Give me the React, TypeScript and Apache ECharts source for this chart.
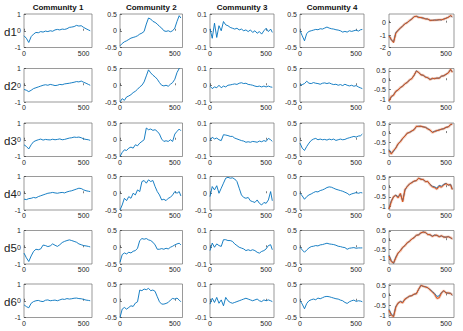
import { useEffect, useRef } from "react";
import * as echarts from "echarts";

// ---------- data ----------
const xs = [0, 20, 40, 60, 80, 100, 120, 140, 160, 180, 200, 220, 240, 260, 280, 300, 320, 340, 360, 380, 400, 420, 440, 460, 480, 500, 520, 540, 555];
const xTicks = [0, 500];
const communities = ["Community 1", "Community 2", "Community 3", "Community 4"];
const rowNames = ["d1", "d2", "d3", "d4", "d5", "d6"];
const communityRange = [1, 0.5, 0.1, 0.5];
const communityTicks = [[-1, 0, 1], [-0.5, 0, 0.5], [-0.1, 0, 0.1], [-0.5, 0, 0.5]];

const d1c1 = [-0.3, -0.45, -0.7, -0.35, -0.2, -0.1, -0.12, -0.05, -0.08, -0.02, -0.05, 0, -0.03, 0.05, 0.08, 0.05, 0.1, 0.08, 0.12, 0.2, 0.22, 0.25, 0.32, 0.28, 0.3, 0.2, 0.12, 0.05, 0.0];
const d2c1 = [-0.25, -0.3, -0.38, -0.3, -0.2, -0.15, -0.1, -0.05, 0.0, 0.03, 0.0, 0.05, 0.02, -0.02, 0.0, 0.05, 0.03, 0.08, 0.1, 0.12, 0.15, 0.18, 0.22, 0.2, 0.25, 0.18, 0.12, 0.05, 0.0];
const d3c1 = [-0.3, -0.4, -0.55, -0.3, -0.12, -0.05, 0.0, 0.04, -0.02, 0.02, 0.0, -0.01, 0.03, 0.0, 0.02, 0.05, 0.0, 0.02, 0.06, 0.1, 0.12, 0.16, 0.14, 0.16, 0.12, 0.05, 0.02, 0.0, -0.04];
const d4c1 = [-0.35, -0.38, -0.32, -0.3, -0.25, -0.28, -0.2, -0.15, -0.1, -0.05, 0.0, 0.02, 0.05, 0.02, 0.0, 0.03, 0.05, 0.02, 0.08, 0.12, 0.15, 0.2, 0.25, 0.3, 0.28, 0.2, 0.15, 0.12, 0.1];
const d5c1 = [-0.35, -0.63, -0.85, -0.52, -0.25, -0.12, -0.15, -0.1, 0.13, 0.1, 0.04, 0.08, 0.2, 0.12, 0.05, 0.15, 0.28, 0.35, 0.4, 0.44, 0.4, 0.35, 0.3, 0.2, 0.15, 0.1, 0.08, 0.05, 0.02];
const d6c1 = [-0.24, -0.35, -0.42, -0.15, -0.05, 0.0, 0.02, -0.03, -0.05, 0.03, 0.05, 0.0, 0.02, 0.04, 0.0, 0.05, 0.1, 0.08, 0.13, 0.1, 0.12, 0.15, 0.16, 0.13, 0.12, 0.08, 0.04, 0.02, 0.0];

const d1c2 = [-0.45, -0.38, -0.33, -0.3, -0.26, -0.22, -0.2, -0.18, -0.15, -0.1, -0.07, -0.02, 0.2, 0.38, 0.35, 0.28, 0.25, 0.2, 0.13, 0.08, 0.0, -0.02, 0.0, -0.03, 0.0, 0.08, 0.28, 0.45, 0.38];
const d2c2 = [-0.5, -0.4, -0.45, -0.35, -0.32, -0.28, -0.22, -0.18, -0.12, -0.05, 0.0, 0.1, 0.28, 0.46, 0.37, 0.3, 0.25, 0.18, 0.08, 0.0, -0.02, 0.0, -0.03, 0.03, 0.08, 0.18, 0.38, 0.5, 0.55];
const d3c2 = [-0.5, -0.38, -0.3, -0.32, -0.25, -0.22, -0.25, -0.15, -0.18, -0.1, -0.05, 0.0, 0.35, 0.3, 0.32, 0.28, 0.3, 0.25, 0.17, 0.02, -0.05, -0.03, -0.05, 0.0, -0.05, 0.17, 0.25, 0.32, 0.27];
const d4c2 = [-0.5, -0.35, -0.15, -0.22, -0.1, -0.15, 0.0, -0.05, 0.1, 0.05, 0.35, 0.38, 0.3, 0.4, 0.35, 0.38, 0.2, 0.05, -0.05, -0.2, -0.18, -0.22, -0.15, -0.12, -0.05, 0.05, 0.0, 0.05, -0.08];
const d5c2 = [-0.45, -0.22, -0.17, -0.2, -0.15, -0.17, -0.12, -0.1, -0.03, 0.2, 0.26, 0.24, 0.26, 0.22, 0.2, 0.15, 0.07, -0.06, -0.06, -0.04, -0.06, -0.03, -0.05, 0.0, 0.03, 0.07, 0.1, 0.12, 0.07];
const d6c2 = [-0.5, -0.25, -0.2, -0.25, -0.2, -0.15, -0.17, -0.07, -0.03, 0.32, 0.3, 0.35, 0.33, 0.37, 0.3, 0.32, 0.28, 0.12, -0.03, -0.1, -0.1, -0.08, -0.05, 0.02, 0.07, 0.05, 0.08, 0.02, -0.03];

const d1c3 = [0.01, -0.045, 0.045, -0.04, 0.03, 0.0, 0.055, 0.035, 0.03, 0.02, 0.015, 0.01, 0.015, 0.005, 0.01, 0.0, 0.005, -0.005, 0.005, -0.01, 0.0, -0.015, -0.005, -0.02, 0.0, 0.015, -0.005, 0.01, -0.01];
const d2c3 = [-0.005, -0.02, -0.01, -0.015, 0.0, -0.015, -0.005, -0.01, 0.0, 0.002, 0.005, 0.008, 0.005, 0.012, 0.015, 0.01, 0.012, 0.005, 0.003, 0.0, -0.005, -0.008, -0.005, -0.01, -0.005, -0.01, -0.005, -0.01, -0.012];
const d3c3 = [-0.005, 0.015, 0.005, 0.01, 0.0, -0.005, 0.03, 0.028, 0.025, 0.02, 0.02, 0.01, 0.005, 0.0, -0.005, -0.008, -0.015, -0.012, -0.015, -0.01, -0.012, -0.015, -0.008, -0.012, -0.005, -0.01, 0.008, 0.0, -0.01];
const d4c3 = [-0.02, 0.04, 0.02, 0.045, 0.0, 0.03, 0.06, 0.09, 0.095, 0.09, 0.092, 0.085, 0.07, 0.03, -0.01, -0.025, -0.03, -0.025, -0.045, -0.05, -0.055, -0.04, -0.06, -0.07, -0.055, -0.06, -0.04, 0.01, -0.045];
const d5c3 = [-0.02, 0.025, 0.0, 0.02, 0.01, 0.005, 0.045, 0.045, 0.04, 0.04, 0.035, 0.02, 0.01, 0.0, -0.005, -0.01, -0.02, -0.015, -0.02, -0.015, -0.02, -0.03, -0.035, -0.025, -0.02, -0.01, 0.01, 0.015, -0.015];
const d6c3 = [-0.02, 0.015, -0.01, 0.02, -0.015, 0.005, -0.03, 0.02, 0.0, -0.01, -0.015, -0.01, -0.005, 0.0, 0.005, 0.01, 0.015, 0.01, 0.005, 0.0, 0.005, 0.01, 0.0, -0.005, 0.005, 0.0, 0.005, 0.0, -0.005];

const d1c4 = [0.0, -0.15, -0.3, -0.08, -0.02, 0.0, 0.02, 0.04, 0.03, 0.06, 0.05, 0.08, 0.11, 0.08, 0.06, 0.05, 0.03, 0.02, 0.0, -0.04, -0.02, -0.04, 0.0, -0.02, 0.0, 0.02, -0.01, 0.03, 0.04];
const d2c4 = [0.0, 0.02, 0.05, 0.12, 0.06, 0.05, 0.08, 0.06, 0.05, 0.03, 0.06, 0.07, 0.05, 0.07, 0.04, 0.02, 0.03, 0.0, 0.02, -0.01, 0.03, 0.0, -0.02, 0.0, -0.03, -0.01, -0.05, -0.08, -0.1];
const d3c4 = [-0.1, -0.25, -0.32, -0.2, -0.1, -0.02, 0.02, 0.04, 0.0, 0.02, 0.0, 0.01, -0.01, 0.02, 0.0, 0.02, -0.02, 0.0, 0.02, 0.0, 0.01, 0.04, 0.06, 0.08, 0.1, 0.08, 0.11, 0.12, 0.17];
const d4c4 = [0.0, -0.08, -0.18, -0.1, -0.05, -0.02, 0.02, 0.05, 0.04, 0.08, 0.1, 0.13, 0.17, 0.19, 0.18, 0.15, 0.12, 0.1, 0.08, 0.06, 0.03, 0.0, -0.05, -0.02, 0.0, 0.02, 0.0, 0.02, 0.01];
const d5c4 = [0.0, -0.08, -0.15, -0.08, -0.02, 0.02, 0.03, 0.05, 0.04, 0.07, 0.08, 0.1, 0.12, 0.1, 0.09, 0.08, 0.06, 0.03, 0.02, 0.0, -0.01, -0.06, -0.03, -0.02, -0.01, -0.03, -0.02, -0.02, -0.02];
const d6c4 = [0.0, -0.1, -0.24, -0.08, 0.0, 0.03, 0.05, 0.03, 0.08, 0.06, 0.09, 0.12, 0.13, 0.12, 0.1, 0.08, 0.06, 0.05, 0.02, 0.0, -0.05, -0.08, -0.03, 0.0, 0.02, -0.02, 0.0, -0.01, -0.03];

const d1c5Blue = [-1.0, -1.4, -1.55, -0.8, -0.6, -0.45, -0.25, -0.1, 0.02, 0.15, 0.3, 0.5, 0.5, 0.45, 0.4, 0.38, 0.32, 0.28, 0.2, 0.18, 0.22, 0.2, 0.25, 0.22, 0.3, 0.35, 0.45, 0.55, 0.45];
const d1c5Orange = [-1.05, -1.35, -1.6, -0.85, -0.62, -0.42, -0.28, -0.08, 0.0, 0.18, 0.28, 0.48, 0.52, 0.42, 0.42, 0.36, 0.3, 0.3, 0.18, 0.2, 0.2, 0.22, 0.23, 0.24, 0.28, 0.36, 0.43, 0.57, 0.48];
const d2c5Blue = [-1.05, -0.9, -0.75, -0.6, -0.5, -0.4, -0.3, -0.2, -0.1, 0.0, 0.1, 0.25, 0.5, 0.4, 0.3, 0.25, 0.18, 0.12, 0.05, 0.08, 0.1, 0.1, 0.12, 0.2, 0.25, 0.3, 0.4, 0.55, 0.45];
const d2c5Orange = [-1.1, -0.85, -0.8, -0.58, -0.52, -0.38, -0.32, -0.18, -0.12, 0.02, 0.08, 0.27, 0.48, 0.42, 0.28, 0.27, 0.16, 0.14, 0.03, 0.1, 0.08, 0.12, 0.1, 0.22, 0.23, 0.32, 0.38, 0.58, 0.42];
const d3c5Blue = [-0.9, -1.1, -1.0, -0.8, -0.6, -0.45, -0.3, -0.15, -0.02, 0.05, 0.1, 0.2, 0.35, 0.38, 0.36, 0.35, 0.3, 0.25, 0.15, 0.05, 0.1, 0.12, 0.18, 0.2, 0.25, 0.3, 0.35, 0.45, 0.5];
const d3c5Orange = [-0.95, -1.15, -0.95, -0.82, -0.58, -0.48, -0.28, -0.17, 0.0, 0.03, 0.12, 0.18, 0.37, 0.36, 0.38, 0.33, 0.32, 0.22, 0.17, 0.03, 0.08, 0.14, 0.16, 0.22, 0.23, 0.32, 0.33, 0.47, 0.48];
const d4c5Blue = [-1.1, -0.7, -0.5, -0.4, -0.5, -0.35, -0.7, -0.15, 0.05, 0.15, 0.25, 0.3, 0.35, 0.45, 0.42, 0.38, 0.3, 0.28, 0.15, 0.05, 0.02, -0.05, 0.1, 0.05, 0.15, 0.2, 0.1, 0.15, -0.1];
const d4c5Orange = [-1.12, -0.75, -0.48, -0.42, -0.55, -0.32, -0.75, -0.12, 0.03, 0.17, 0.23, 0.32, 0.33, 0.47, 0.4, 0.4, 0.28, 0.3, 0.13, 0.02, -0.02, -0.1, 0.05, 0.0, 0.12, 0.18, 0.12, 0.12, -0.12];
const d5c5Blue = [-0.8, -1.1, -1.25, -0.9, -0.7, -0.55, -0.4, -0.28, -0.15, -0.05, 0.05, 0.15, 0.25, 0.3, 0.38, 0.45, 0.4, 0.32, 0.28, 0.22, 0.28, 0.25, 0.2, 0.22, 0.18, 0.15, 0.2, 0.12, 0.08];
const d5c5Orange = [-0.85, -1.15, -1.22, -0.95, -0.68, -0.58, -0.38, -0.3, -0.13, -0.07, 0.07, 0.13, 0.27, 0.28, 0.4, 0.43, 0.42, 0.3, 0.3, 0.2, 0.26, 0.27, 0.18, 0.24, 0.16, 0.17, 0.18, 0.14, 0.06];
const d6c5Blue = [-0.7, -0.95, -1.05, -0.55, -0.4, -0.3, -0.35, -0.2, -0.1, -0.05, 0.0, 0.05, 0.1, 0.3, 0.52, 0.45, 0.45, 0.38, 0.3, 0.2, 0.1, -0.05, -0.02, 0.15, 0.22, 0.15, 0.1, 0.12, 0.0];
const d6c5Orange = [-0.75, -1.0, -1.08, -0.6, -0.38, -0.32, -0.38, -0.18, -0.12, -0.03, -0.02, 0.07, 0.08, 0.32, 0.5, 0.47, 0.42, 0.4, 0.28, 0.18, 0.05, -0.15, -0.12, 0.12, 0.25, 0.12, 0.13, 0.1, 0.02];

const communitySeries = [
  [d1c1, d1c2, d1c3, d1c4],
  [d2c1, d2c2, d2c3, d2c4],
  [d3c1, d3c2, d3c3, d3c4],
  [d4c1, d4c2, d4c3, d4c4],
  [d5c1, d5c2, d5c3, d5c4],
  [d6c1, d6c2, d6c3, d6c4],
];
const lastBlue = [d1c5Blue, d2c5Blue, d3c5Blue, d4c5Blue, d5c5Blue, d6c5Blue];
const lastOrange = [d1c5Orange, d2c5Orange, d3c5Orange, d4c5Orange, d5c5Orange, d6c5Orange];
const lastMin = [-2, -1.15, -1.28, -1.17, -1.28, -1.12];
const lastMax = [0.7, 0.62, 0.55, 0.55, 0.52, 0.58];
const lastTicks = [[-2, -1, 0], [-1, -0.5, 0, 0.5], [-1, -0.5, 0, 0.5], [-1, -0.5, 0, 0.5], [-1, -0.5, 0, 0.5], [-1, -0.5, 0, 0.5]];

// ---------- layout ----------
const colLeft = [24, 120, 210, 300, 389];
const colWidth = [68, 62.5, 64, 64, 65];
const rowTop = [14, 68.5, 123, 176.5, 230.5, 284];
const rowHeight = 33.5;
const XMAX = 570;
const BLUE = "#0072BD";
const ORANGE = "#D95319";
const AX = "#262626";
const FONT = "Liberation Sans, Arial, Helvetica, sans-serif";

function pair(ys: number[]) {
  return xs.map((x, i) => [x, ys[i]]);
}

export default function App() {
  const ref = useRef<HTMLDivElement>(null);
  useEffect(() => {
    document.body.style.margin = "0";
    if (!ref.current) return;
    const chart = echarts.init(ref.current, null, { renderer: "svg" });
    const grid: any[] = [];
    const xAxis: any[] = [];
    const yAxis: any[] = [];
    const series: any[] = [];
    const graphic: any[] = [];

    for (let r = 0; r < 6; r++) {
      for (let c = 0; c < 5; c++) {
        const idx = grid.length;
        grid.push({
          left: colLeft[c],
          top: rowTop[r],
          width: colWidth[c],
          height: rowHeight,
          show: true,
          borderColor: "#6e6e6e",
          borderWidth: 0.7,
          backgroundColor: "#fff",
          containLabel: false,
        });
        xAxis.push({
          type: "value",
          gridIndex: idx,
          min: 0,
          max: XMAX,
          axisLine: { show: false },
          splitLine: { show: false },
          axisTick: { show: true, inside: true, length: 2, lineStyle: { color: AX, width: 0.6 }, customValues: xTicks },
          axisLabel: { fontSize: 7, color: AX, margin: 2, fontFamily: FONT, customValues: xTicks },
        });
        const isLast = c === 4;
        const yMin = isLast ? lastMin[r] : -communityRange[c];
        const yMax = isLast ? lastMax[r] : communityRange[c];
        const ticks = isLast ? lastTicks[r] : communityTicks[c];
        yAxis.push({
          type: "value",
          gridIndex: idx,
          min: yMin,
          max: yMax,
          axisLine: { show: false },
          splitLine: { show: false },
          axisTick: { show: true, inside: true, length: 2, lineStyle: { color: AX, width: 0.6 }, customValues: ticks },
          axisLabel: { fontSize: 7, color: AX, margin: 3, fontFamily: FONT, customValues: ticks },
        });
        if (!isLast) {
          series.push({
            type: "line",
            xAxisIndex: idx,
            yAxisIndex: idx,
            data: pair(communitySeries[r][c]),
            showSymbol: false,
            lineStyle: { color: BLUE, width: 0.9 },
            clip: true,
          });
        } else {
          series.push({
            type: "line",
            xAxisIndex: idx,
            yAxisIndex: idx,
            data: pair(lastOrange[r]),
            showSymbol: false,
            lineStyle: { color: ORANGE, width: 2.6, opacity: 0.3 },
            clip: true,
            silent: true,
          });
          series.push({
            type: "line",
            xAxisIndex: idx,
            yAxisIndex: idx,
            data: pair(lastBlue[r]),
            showSymbol: false,
            lineStyle: { color: BLUE, width: 0.9 },
            clip: true,
          });
          series.push({
            type: "line",
            xAxisIndex: idx,
            yAxisIndex: idx,
            data: pair(lastOrange[r]),
            showSymbol: false,
            lineStyle: { color: ORANGE, width: 1 },
            clip: true,
          });
        }
      }
      graphic.push({
        type: "text",
        x: 4,
        y: rowTop[r] + rowHeight / 2 + 1,
        style: { text: rowNames[r], fontSize: 11.5, fill: "#222", fontFamily: FONT, verticalAlign: "middle", textAlign: "left" },
      });
    }
    for (let c = 0; c < 4; c++) {
      graphic.push({
        type: "text",
        x: colLeft[c] + colWidth[c] / 2,
        y: 7,
        style: { text: communities[c], fontSize: 8, fontWeight: "bold", fill: "#111", fontFamily: FONT, textAlign: "center", verticalAlign: "middle" },
      });
    }

    chart.setOption({
      animation: false,
      backgroundColor: "#fff",
      grid,
      xAxis,
      yAxis,
      series,
      graphic,
    });
    return () => chart.dispose();
  }, []);
  return <div ref={ref} style={{ width: 463, height: 331 }} />;
}
